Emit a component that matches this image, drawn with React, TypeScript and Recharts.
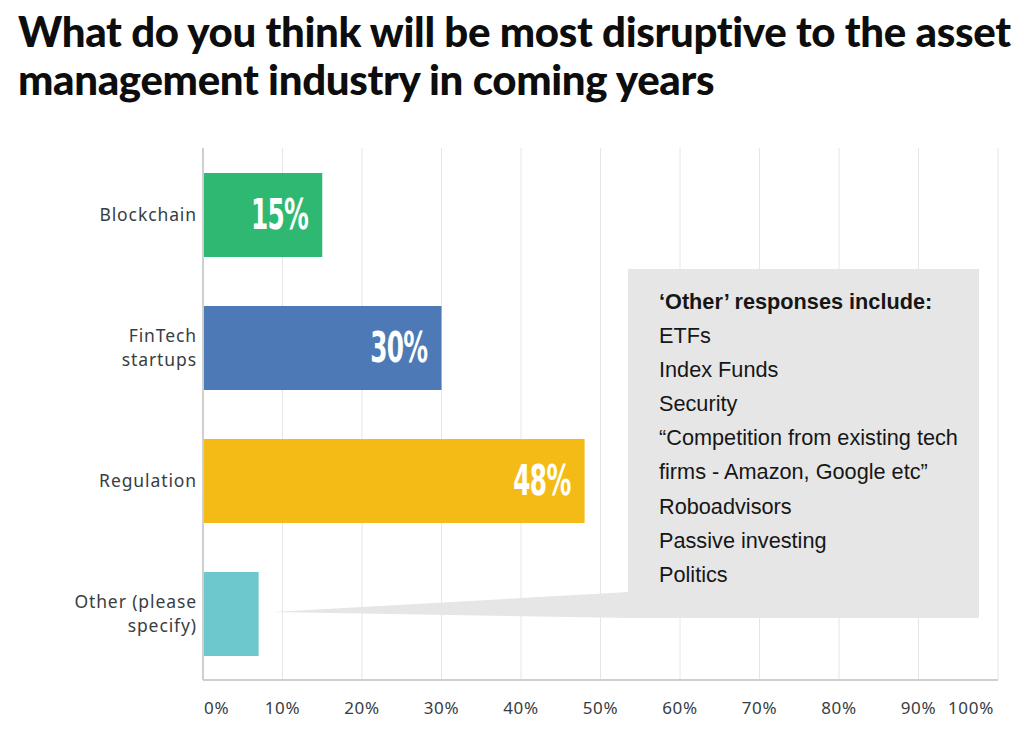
import React from "react";
import { BarChart, Bar, XAxis, YAxis, CartesianGrid, LabelList, Cell } from "recharts";

const categories = ["Blockchain", "FinTech\nstartups", "Regulation", "Other (please\nspecify)"];
const values = [15, 30, 48, 7];
const showLabel = [true, true, true, false];
const colors = ["#2fb872", "#4d7ab7", "#f4bb16", "#6cc8cc"];
const xTicks = [0, 10, 20, 30, 40, 50, 60, 70, 80, 90, 100];
const titleLines = [
  "What do you think will be most disruptive to the asset",
  "management industry in coming years",
];
const otherHeading = "\u2018Other\u2019 responses include:";
const otherResponses = [
  "ETFs",
  "Index Funds",
  "Security",
  "\u201cCompetition from existing tech",
  "firms - Amazon, Google etc\u201d",
  "Roboadvisors",
  "Passive investing",
  "Politics",
];

const data = categories.map((c, i) => ({ name: c, value: values[i], show: showLabel[i] }));

const labelColor = "#383d44";

const YTick = (props: any) => {
  const { x, y, payload } = props;
  const lines = String(payload.value).split("\n");
  const lh = 24;
  const start = y - 1 - ((lines.length - 1) * lh) / 2;
  return (
    <text
      x={x}
      y={start}
      textAnchor="end"
      dominantBaseline="central"
      fill={labelColor}
      style={{ fontFamily: "'Noto Sans', sans-serif", fontSize: 17.5, letterSpacing: 0.9 }}
    >
      {lines.map((l, i) => (
        <tspan key={i} x={x} y={start + i * lh}>
          {l}
        </tspan>
      ))}
    </text>
  );
};

const XTick = (props: any) => {
  const { x, y, payload } = props;
  let anchor: "start" | "middle" | "end" = "middle";
  let dx = 0;
  if (payload.value === 0) {
    anchor = "start";
    dx = 1;
  } else if (payload.value === 100) {
    anchor = "end";
    dx = -4;
  }
  return (
    <text
      x={x + dx}
      y={y + 19}
      textAnchor={anchor}
      dominantBaseline="central"
      fill={labelColor}
      style={{ fontFamily: "'Noto Sans', sans-serif", fontSize: 17, letterSpacing: 0.7 }}
    >
      {payload.value}%
    </text>
  );
};

const BarLabel = (props: any) => {
  const { x, y, width, height, value, index } = props;
  if (!data[index].show) return null;
  const rx = x + width - 14;
  const cy = y + height / 2;
  return (
    <g transform={`translate(${rx},${cy}) scale(0.64,1)`}>
      <text
        x={0}
        y={0}
        textAnchor="end"
        dominantBaseline="central"
        fill="#ffffff"
        style={{ fontFamily: "'Liberation Sans Narrow', 'DejaVu Sans Condensed', sans-serif", fontSize: 43, fontWeight: 700, letterSpacing: -1 }}
      >
        {value}%
      </text>
    </g>
  );
};

export default function App() {
  return (
    <div style={{ position: "absolute", left: 0, top: 0, width: 1024, height: 736, background: "#ffffff", overflow: "hidden" }}>
      <div
        style={{
          position: "absolute",
          left: 18,
          top: 7,
          fontFamily: "Lato, sans-serif",
          fontWeight: 900,
          fontSize: 42,
          lineHeight: "48px",
          color: "#0d0d0d",
          letterSpacing: -0.35,
          whiteSpace: "nowrap",
        }}
      >
        {titleLines.map((t, i) => (
          <div key={i}>{t}</div>
        ))}
      </div>
      <div style={{ position: "absolute", left: 0, top: 0 }}>
        <BarChart
          width={1024}
          height={736}
          data={data}
          layout="vertical"
          margin={{ top: 148, right: 26, bottom: 0, left: 8 }}
          barSize={84}
        >
          <CartesianGrid horizontal={false} vertical={true} stroke="#e6e6e6" />
          <XAxis
            type="number"
            domain={[0, 100]}
            ticks={xTicks}
            interval={0}
            height={56}
            tickLine={false}
            axisLine={{ stroke: "#cfcfcf", strokeWidth: 2 }}
            tick={<XTick />}
          />
          <YAxis
            type="category"
            dataKey="name"
            width={195}
            tickLine={false}
            axisLine={{ stroke: "#cfcfcf", strokeWidth: 2 }}
            tick={<YTick />}
            tickMargin={0}
          />
          <Bar dataKey="value" isAnimationActive={false}>
            {data.map((d, i) => (
              <Cell key={i} fill={colors[i]} />
            ))}
            <LabelList dataKey="value" content={<BarLabel />} />
          </Bar>
        </BarChart>
      </div>
      <svg style={{ position: "absolute", left: 0, top: 0 }} width={1024} height={736}>
        <polygon points="272,612 629,592 629,618" fill="#e6e6e6" />
        <rect x={628} y={269} width={351} height={349} fill="#e6e6e6" />
      </svg>
      <div
        style={{
          position: "absolute",
          left: 659,
          top: 285,
          fontFamily: "'Liberation Sans', Arial, sans-serif",
          fontSize: 21.7,
          lineHeight: "34.1px",
          color: "#161616",
          whiteSpace: "nowrap",
        }}
      >
        <div style={{ fontWeight: 700 }}>{otherHeading}</div>
        {otherResponses.map((t, i) => (
          <div key={i}>{t}</div>
        ))}
      </div>
    </div>
  );
}
